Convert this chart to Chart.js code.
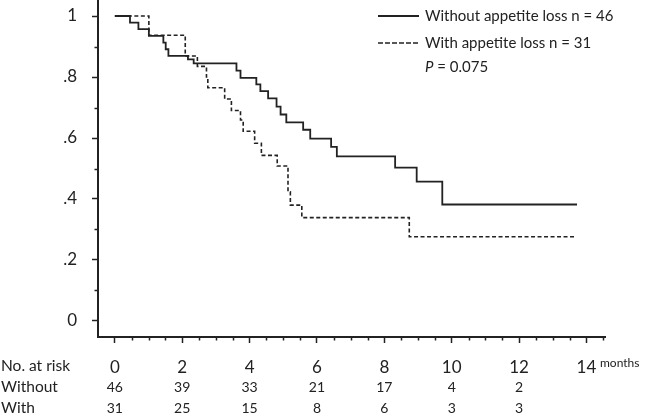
<!DOCTYPE html>
<html><head><meta charset="utf-8">
<script src="https://cdn.jsdelivr.net/npm/chart.js@4.4.0/dist/chart.umd.min.js"></script>
<style>html,body{margin:0;padding:0;background:#fff;}canvas{display:block;}</style>
</head><body>
<canvas id="c" width="646" height="419"></canvas>
<script>
// Kaplan-Meier steps (time in months, survival proportion)
const withoutTimes = [0, 0.45, 0.70, 1.01, 1.44, 1.51, 1.59, 2.17, 2.34, 3.61, 3.73, 4.20, 4.32, 4.55, 4.80, 4.92, 5.09, 5.59, 5.80, 6.42, 6.59, 8.32, 8.96, 9.72, 13.72];
const withoutSurv  = [1.0, 0.978, 0.957, 0.935, 0.913, 0.891, 0.869, 0.858, 0.845, 0.821, 0.797, 0.776, 0.754, 0.730, 0.703, 0.677, 0.651, 0.627, 0.598, 0.571, 0.540, 0.503, 0.457, 0.382, 0.382];
const withTimes = [0, 1.01, 2.09, 2.45, 2.72, 2.76, 3.26, 3.46, 3.73, 3.81, 4.15, 4.35, 4.82, 5.14, 5.21, 5.55, 8.74, 13.65];
const withSurv  = [1.0, 0.937, 0.869, 0.835, 0.800, 0.765, 0.728, 0.690, 0.659, 0.622, 0.583, 0.543, 0.508, 0.424, 0.380, 0.339, 0.276, 0.276];

const xTickValues = [0, 2, 4, 6, 8, 10, 12, 14];
const xTickLabels = ['0', '2', '4', '6', '8', '10', '12', '14'];
const xMinorValues = [0.5, 1, 1.5, 2.5, 3, 3.5, 4.5, 5, 5.5, 6.5, 7, 7.5, 8.5, 9, 9.5, 10.5, 11, 11.5, 12.5, 13, 13.5, 14.5];
const yTickValues = [0, 0.2, 0.4, 0.6, 0.8, 1];
const yTickLabels = ['0', '.2', '.4', '.6', '.8', '1'];
const yMinorValues = [0.1, 0.3, 0.5, 0.7, 0.9];

const riskTimes   = [0, 2, 4, 6, 8, 10, 12];
const riskWithout = [46, 39, 33, 21, 17, 4, 2];
const riskWith    = [31, 25, 15, 8, 6, 3, 3];
const riskRowLabels = ['No. at risk', 'Without', 'With'];
const xUnitLabel = 'months';

const legendLabels = ['Without appetite loss n = 46', 'With appetite loss n = 31'];
const pLabel = 'P';
const pValueText = ' = 0.075';

const FONT = 'Lato, "Liberation Sans", sans-serif';
const INK = '#222';

function zeroPad(s) { s.paddingTop = 0; s.paddingBottom = 0; s.paddingLeft = 0; s.paddingRight = 0; }

const decor = {
  id: 'decor',
  afterDraw(chart) {
    const ctx = chart.ctx;
    const xs = chart.scales.x, ys = chart.scales.y;
    const area = chart.chartArea;
    ctx.save();
    ctx.strokeStyle = INK;
    ctx.lineWidth = 1.5;
    // minor ticks
    ctx.beginPath();
    xMinorValues.forEach(v => {
      const px = Math.round(xs.getPixelForValue(v)) + 0.5;
      ctx.moveTo(px, area.bottom);
      ctx.lineTo(px, area.bottom + 3.5);
    });
    yMinorValues.forEach(v => {
      const py = Math.round(ys.getPixelForValue(v)) + 0.5;
      ctx.moveTo(area.left, py);
      ctx.lineTo(area.left - 3.5, py);
    });
    ctx.stroke();

    // legend
    ctx.fillStyle = INK;
    ctx.textBaseline = 'middle';
    ctx.textAlign = 'left';
    ctx.font = '15px ' + FONT;
    const legY = [16, 43];
    ctx.lineWidth = 1.8;
    ctx.setLineDash([]);
    ctx.beginPath(); ctx.moveTo(378, legY[0]); ctx.lineTo(419, legY[0]); ctx.stroke();
    ctx.lineWidth = 1.6;
    ctx.setLineDash([5, 2]);
    ctx.beginPath(); ctx.moveTo(378, legY[1]); ctx.lineTo(419, legY[1]); ctx.stroke();
    ctx.setLineDash([]);
    ctx.fillText(legendLabels[0], 425, legY[0]);
    ctx.fillText(legendLabels[1], 425, legY[1]);
    ctx.font = 'italic 15px ' + FONT;
    ctx.fillText(pLabel, 425, 67);
    const pw = ctx.measureText(pLabel).width;
    ctx.font = '15px ' + FONT;
    ctx.fillText(pValueText, 425 + pw, 67);

    // number at risk table
    ctx.font = '15.5px ' + FONT;
    ctx.fillText(riskRowLabels[0], 1, 366);
    ctx.fillText(riskRowLabels[1], 1, 387);
    ctx.fillText(riskRowLabels[2], 1, 408);
    ctx.textAlign = 'center';
    ctx.font = '14px ' + FONT;
    riskTimes.forEach((t, i) => {
      const px = xs.getPixelForValue(t);
      ctx.fillText(String(riskWithout[i]), px, 387);
      ctx.fillText(String(riskWith[i]), px, 408);
    });
    ctx.textAlign = 'left';
    ctx.font = '12px ' + FONT;
    ctx.fillText(xUnitLabel, 600, 363);
    ctx.restore();
  }
};

new Chart(document.getElementById('c').getContext('2d'), {
  type: 'line',
  data: {
    datasets: [
      { label: legendLabels[0], data: withoutTimes.map((t, i) => ({ x: t, y: withoutSurv[i] })),
        stepped: true, borderColor: INK, borderWidth: 1.8, pointRadius: 0, fill: false },
      { label: legendLabels[1], data: withTimes.map((t, i) => ({ x: t, y: withSurv[i] })),
        stepped: true, borderColor: INK, borderWidth: 1.6, borderDash: [4, 2.5], pointRadius: 0, fill: false }
    ]
  },
  options: {
    responsive: false,
    animation: false,
    layout: { padding: { left: 0, right: 41, top: 0, bottom: 0 } },
    plugins: { legend: { display: false }, tooltip: { enabled: false } },
    scales: {
      x: {
        type: 'linear', min: -0.5, max: 14.55,
        afterBuildTicks: s => { s.ticks = xTickValues.map(v => ({ value: v })); },
        afterFit: s => { s.height = 82; zeroPad(s); },
        grid: { drawOnChartArea: false, drawTicks: true, tickLength: 6, tickColor: INK, tickWidth: 1.5 },
        border: { display: true, color: INK, width: 2 },
        ticks: { padding: 14, color: INK, font: { family: FONT, size: 17 }, maxRotation: 0, autoSkip: false,
                 callback: (v, i) => xTickLabels[i] }
      },
      y: {
        type: 'linear', min: -0.0525, max: 1.0525,
        afterBuildTicks: s => { s.ticks = yTickValues.map(v => ({ value: v })); },
        afterFit: s => { s.width = 98; zeroPad(s); },
        grid: { drawOnChartArea: false, drawTicks: true, tickLength: 6, tickColor: INK, tickWidth: 1.5 },
        border: { display: true, color: INK, width: 2 },
        ticks: { padding: 15, color: INK, font: { family: FONT, size: 17 },
                 callback: (v, i) => yTickLabels[i] }
      }
    }
  },
  plugins: [decor]
});
</script>
</body></html>
